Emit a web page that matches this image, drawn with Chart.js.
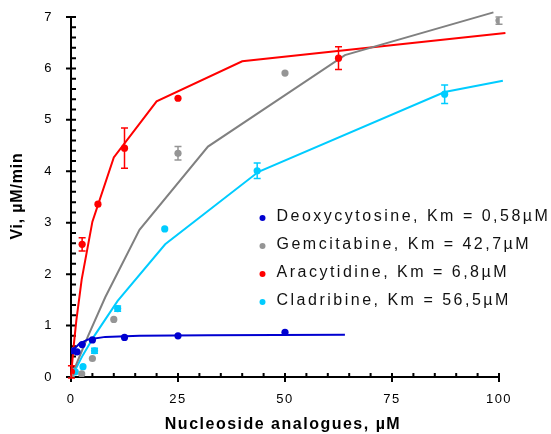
<!DOCTYPE html>
<html>
<head>
<meta charset="utf-8">
<script src="https://cdn.jsdelivr.net/npm/chart.js@4"></script>
<style>
  html, body { margin: 0; padding: 0; background: #fff; }
</style>
</head>
<body>
<canvas id="myChart" width="551" height="434"></canvas>
<script>
// Substrate concentration (µM) and initial velocity (µM/min), measured points
const deoxyX = [0.5, 1.4, 2.6, 5, 12.5, 25, 50];
const deoxyY = [0.51, 0.49, 0.63, 0.72, 0.77, 0.80, 0.87];

const gemX = [0, 2.5, 5, 10, 25, 50, 100];
const gemY = [0, 0.06, 0.36, 1.12, 4.35, 5.91, 6.93];
const gemErr = [0, 0, 0, 0, 0.13, 0, 0.07];

const araX = [0.1, 2.6, 6.3, 12.5, 25, 62.5];
const araY = [0.1, 2.58, 3.36, 4.45, 5.42, 6.2];
const araErr = [0.12, 0.13, 0, 0.39, 0, 0.22];

const cladX = [0, 1.0, 2.8, 5.5, 10.9, 21.9, 43.5, 87.3];
const cladY = [0, 0.10, 0.20, 0.51, 1.33, 2.88, 4.01, 5.50];
const cladErr = [0, 0, 0, 0.05, 0.05, 0, 0.15, 0.18];

// Fitted Michaelis-Menten curves
const deoxyFitX = [0.3, 1, 2, 4, 8, 16, 32, 64];
const deoxyFitY = [0.50, 0.57, 0.65, 0.73, 0.78, 0.80, 0.81, 0.82];

const gemFitX = [0, 4, 8, 16, 32, 64, 98.7];
const gemFitY = [0, 0.8, 1.55, 2.86, 4.48, 6.26, 7.09];

const araFitX = [0, 0.6, 1.25, 2.5, 5, 10, 20, 40, 101.5];
const araFitY = [0, 0.58, 1.1, 1.9, 3.02, 4.27, 5.36, 6.14, 6.69];

const cladFitX = [0, 1.36, 2.73, 5.45, 10.9, 22, 43.8, 87.3, 100.9];
const cladFitY = [0, 0.2, 0.42, 0.8, 1.48, 2.58, 3.99, 5.54, 5.76];

const xTicks = [0, 25, 50, 75, 100];
const yTicks = [0, 1, 2, 3, 4, 5, 6, 7];

const labels = [
    'Deoxycytosine, Km = 0,58µM',
    'Gemcitabine, Km = 42,7µM',
    'Aracytidine, Km = 6,8µM',
    'Cladribine, Km = 56,5µM'
];

const FONT = 'Arial, "Liberation Sans", sans-serif';

function toXY(xs, ys) {
    return xs.map((v, i) => ({ x: v, y: ys[i] }));
}

function pointSet(label, xs, ys, errs, color) {
    return {
        label: label,
        data: toXY(xs, ys),
        errors: errs,
        showLine: false,
        pointRadius: 3.6,
        pointHoverRadius: 3.6,
        pointBorderWidth: 0,
        pointBackgroundColor: color,
        pointBorderColor: color,
        borderColor: color,
        backgroundColor: color,
        order: 0,
        isPoints: true,
    };
}

function fitSet(xs, ys, color) {
    return {
        data: toXY(xs, ys),
        showLine: true,
        borderColor: color,
        borderWidth: 2,
        pointRadius: 0,
        fill: false,
        clip: false,
        order: 1,
    };
}

// no extra room for the end tick labels, the plot area is fixed by the padding
function noScalePadding(s) {
    s.paddingTop = 0;
    s.paddingBottom = 0;
    s.paddingLeft = 0;
    s.paddingRight = 0;
}

// Axis lines with major/minor tick marks
const axesPlugin = {
    id: 'axes',
    beforeDatasetsDraw(chart) {
        const { ctx, scales: { x, y } } = chart;
        const x0 = x.getPixelForValue(0), x1 = x.getPixelForValue(100);
        const y0 = y.getPixelForValue(0), y1 = y.getPixelForValue(7);
        ctx.save();
        ctx.strokeStyle = '#000';
        ctx.lineWidth = 2;
        ctx.beginPath();
        ctx.moveTo(x0, y0); ctx.lineTo(x1 + 1, y0);
        ctx.moveTo(x0, y0 + 1); ctx.lineTo(x0, y1);
        for (let v = 0; v <= 100; v += 5) {
            const px = x.getPixelForValue(v);
            if (v % 25 === 0) { ctx.moveTo(px, y0 - 4); ctx.lineTo(px, y0 + 5); }
            else { ctx.moveTo(px, y0); ctx.lineTo(px, y0 - 4); }
        }
        for (let i = 0; i <= 35; i++) {
            const py = y.getPixelForValue(i / 5);
            if (i % 5 === 0) { ctx.moveTo(x0 - 5, py); ctx.lineTo(x0 + 5, py); }
            else { ctx.moveTo(x0, py); ctx.lineTo(x0 + 5, py); }
        }
        ctx.stroke();
        ctx.restore();
    }
};

// Vertical error bars with caps
const errorBarsPlugin = {
    id: 'errorBars',
    afterDatasetsDraw(chart) {
        const { ctx, scales: { x, y } } = chart;
        ctx.save();
        ctx.lineWidth = 1.5;
        chart.data.datasets.forEach(ds => {
            if (!ds.errors) return;
            ctx.strokeStyle = ds.borderColor;
            ds.data.forEach((p, i) => {
                const e = ds.errors[i];
                if (!e) return;
                const px = x.getPixelForValue(p.x);
                const top = y.getPixelForValue(p.y + e);
                const bot = y.getPixelForValue(p.y - e);
                ctx.beginPath();
                ctx.moveTo(px, top); ctx.lineTo(px, bot);
                ctx.moveTo(px - 3.5, top); ctx.lineTo(px + 3.5, top);
                ctx.moveTo(px - 3.5, bot); ctx.lineTo(px + 3.5, bot);
                ctx.stroke();
            });
        });
        ctx.restore();
    }
};

// Legend inside the plot and the axis titles
const textPlugin = {
    id: 'texts',
    beforeDraw(chart) {
        chart.ctx.letterSpacing = '1.5px';
    },
    beforeDatasetsDraw(chart) {
        chart.ctx.letterSpacing = '0px';
    },
    afterDraw(chart) {
        const ctx = chart.ctx;
        ctx.save();
        ctx.fillStyle = '#000';
        ctx.textBaseline = 'middle';

        // legend
        ctx.font = '16px ' + FONT;
        ctx.letterSpacing = '2.5px';
        const pts = chart.data.datasets.filter(d => d.isPoints);
        pts.forEach((ds, i) => {
            const cy = 217 + i * 28;
            ctx.fillStyle = ds.pointBackgroundColor;
            ctx.beginPath();
            ctx.arc(262.5, cy + 1, 3, 0, Math.PI * 2);
            ctx.fill();
            ctx.fillStyle = '#111';
            ctx.textAlign = 'left';
            ctx.fillText(ds.label, 276.5, cy);
        });

        // axis titles
        ctx.fillStyle = '#000';
        ctx.font = 'bold 16px ' + FONT;
        ctx.letterSpacing = '1.5px';
        ctx.textAlign = 'center';
        ctx.fillText('Nucleoside analogues, µM', 283, 425);

        ctx.letterSpacing = '0.8px';
        ctx.translate(18, 196);
        ctx.rotate(-Math.PI / 2);
        ctx.fillText('Vi, µM/min', 0, 0);
        ctx.restore();
    }
};

const ctx = document.getElementById('myChart').getContext('2d');

const myChart = new Chart(ctx, {
    type: 'scatter',
    data: {
        datasets: [
            pointSet(labels[0], deoxyX, deoxyY, null, '#0000D0'),
            pointSet(labels[1], gemX, gemY, gemErr, '#959595'),
            pointSet(labels[2], araX, araY, araErr, '#FF0000'),
            pointSet(labels[3], cladX, cladY, cladErr, '#00CCFF'),
            fitSet(deoxyFitX, deoxyFitY, '#0000D0'),
            fitSet(gemFitX, gemFitY, '#808080'),
            fitSet(araFitX, araFitY, '#FF0000'),
            fitSet(cladFitX, cladFitY, '#00CCFF'),
        ],
    },
    options: {
        responsive: false,
        animation: false,
        layout: { padding: { left: 0, right: 52, top: 17, bottom: 0 } },
        plugins: {
            legend: { display: false },
            tooltip: { enabled: false },
        },
        scales: {
            x: {
                type: 'linear',
                min: 0,
                max: 100,
                afterBuildTicks: s => { s.ticks = xTicks.map(v => ({ value: v })); },
                afterFit: s => { s.height = 57; noScalePadding(s); },
                grid: { display: false, drawTicks: false },
                border: { display: false },
                ticks: { padding: 15, color: '#000', font: { size: 13, family: FONT } },
            },
            y: {
                type: 'linear',
                min: 0,
                max: 7,
                afterBuildTicks: s => { s.ticks = yTicks.map(v => ({ value: v })); },
                afterFit: s => { s.width = 71; noScalePadding(s); },
                grid: { display: false, drawTicks: false },
                border: { display: false },
                ticks: { padding: 18, color: '#000', font: { size: 13, family: FONT } },
            },
        },
    },
    plugins: [axesPlugin, errorBarsPlugin, textPlugin],
});
</script>
</body>
</html>
